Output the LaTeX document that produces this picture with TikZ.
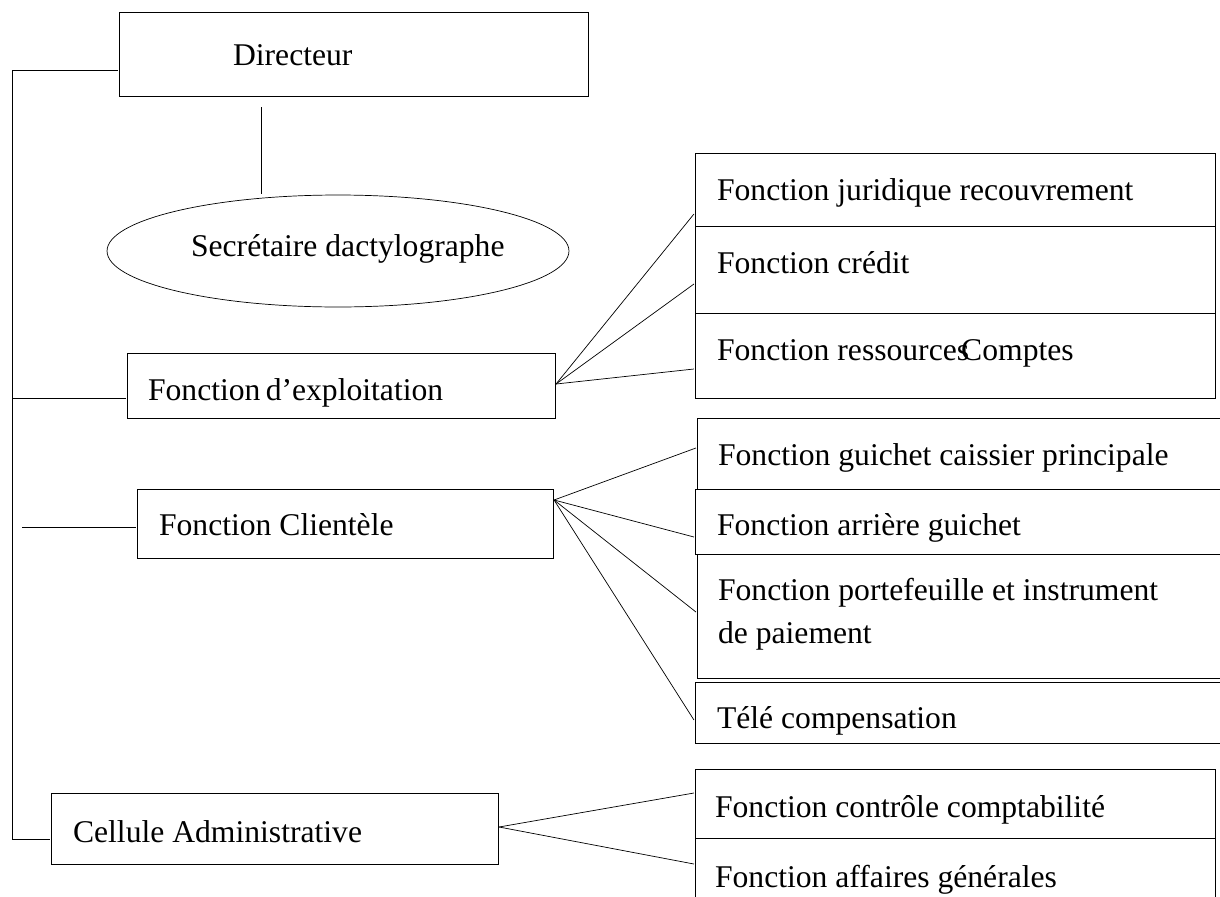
\documentclass[tikz,border=0pt]{standalone}
\usepackage{fontspec}
\setmainfont{Liberation Serif}
\usetikzlibrary{fit,shapes.geometric,positioning}

\begin{document}
\begin{tikzpicture}[x=0.02cm,y=-0.02cm]

\tikzset{inner sep=0mm,line width=1.2pt,
box/.style={draw=black,rectangle},
lbl/.style={anchor=base west,font=\fontsize{18}{22}\selectfont},
oval/.style={draw=black,ellipse,minimum width=9.24cm,minimum height=2.24cm,font=\fontsize{18}{22}\selectfont}}

\useasboundingbox (0,0) rectangle (1220,896);
\clip (0,0) rectangle (1220,896);

% Direction
\coordinate (dirA) at (119,12);
\coordinate (dirB) at (588,96);
\node[box,fit=(dirA) (dirB)] (dir) {};
\node[lbl] (dirT) at (232,65) {Directeur};

\node[oval] (sec) at (338,251) {};
\node[lbl] (secT) at (190,256) {Secr\'etaire dactylographe};
\coordinate (secA) at (261,107);
\coordinate (secB) at (261,194);
\draw (secA) -- (secB);

% Fonctions principales
\coordinate (expA) at (127,353);
\coordinate (expB) at (555,418);
\node[box,fit=(expA) (expB)] (exp) {};
\node[lbl] (expT) at (147,400) {Fonction\,d’exploitation};

\coordinate (cliA) at (137,489);
\coordinate (cliB) at (553,558);
\node[box,fit=(cliA) (cliB)] (cli) {};
\node[lbl] (cliT) at (158,535) {Fonction Client\`ele};

\coordinate (celA) at (51,793);
\coordinate (celB) at (498,864);
\node[box,fit=(celA) (celB)] (cel) {};
\node[lbl] (celT) at (72,842) {Cellule Administrative};

% Left trunk
\coordinate (trunkTop) at (12,70);
\coordinate (trunkBot) at (12,839);
\coordinate (expJ) at (12,398);
\coordinate (cliJ) at (22,527);
\draw (dir.west |- trunkTop) -- (trunkTop) -- (trunkBot) -- (cel.west |- trunkBot);
\draw (expJ) -- (exp.west |- expJ);
\draw (cliJ) -- (cli.west |- cliJ);

% Exploitation
\coordinate (jurA) at (695,153);
\coordinate (jurB) at (1215,226);
\node[box,fit=(jurA) (jurB)] (jur) {};
\node[lbl] (jurT) at (716,200) {Fonction juridique recouvrement};

\coordinate (creA) at (695,226);
\coordinate (creB) at (1215,313);
\node[box,fit=(creA) (creB)] (cre) {};
\node[lbl] (creT) at (716,273) {Fonction cr\'edit};

\coordinate (resA) at (695,313);
\coordinate (resB) at (1215,398);
\node[box,fit=(resA) (resB)] (res) {};
\node[lbl] (resT) at (716,360) {Fonction ressources\kern-0.25em Comptes};

% Clientele
\coordinate (guiA) at (697,418);
\coordinate (guiB) at (1240,489);
\node[box,fit=(guiA) (guiB)] (gui) {};
\node[lbl] (guiT) at (717,465) {Fonction guichet caissier principale};

\coordinate (arrA) at (695,489);
\coordinate (arrB) at (1240,554);
\node[box,fit=(arrA) (arrB)] (arr) {};
\node[lbl] (arrT) at (716,535) {Fonction arri\`ere guichet};

\coordinate (porA) at (697,554);
\coordinate (porB) at (1240,678);
\node[box,fit=(porA) (porB)] (por) {};
\node[lbl] (porT1) at (717,600) {Fonction portefeuille et instrument};
\node[lbl] (porT2) at (717,643) {de paiement};

\coordinate (telA) at (695,682);
\coordinate (telB) at (1240,743);
\node[box,fit=(telA) (telB)] (tel) {};
\node[lbl] (telT) at (716,728) {T\'el\'e compensation};

% Administration
\coordinate (conA) at (695,769);
\coordinate (conB) at (1215,838);
\node[box,fit=(conA) (conB)] (con) {};
\node[lbl] (conT) at (714,817) {Fonction contr\^ole comptabilit\'e};

\coordinate (affA) at (695,838);
\coordinate (affB) at (1215,910);
\node[box,fit=(affA) (affB)] (aff) {};
\node[lbl] (affT) at (714,887) {Fonction affaires g\'en\'erales};

% Links
\draw (exp.east |- 0,384) -- (jur.west |- 0,214);
\draw (exp.east |- 0,384) -- (cre.west |- 0,284);
\draw (exp.east |- 0,384) -- (res.west |- 0,369);

\draw (cli.east |- 0,500) -- (gui.west |- 0,448);
\draw (cli.east |- 0,500) -- (arr.west |- 0,537);
\draw (cli.east |- 0,500) -- (por.west |- 0,612);
\draw (cli.east |- 0,500) -- (tel.west |- 0,720);

\draw (cel.east |- 0,827) -- (con.west |- 0,793);
\draw (cel.east |- 0,827) -- (aff.west |- 0,864);

\end{tikzpicture}
\end{document}
